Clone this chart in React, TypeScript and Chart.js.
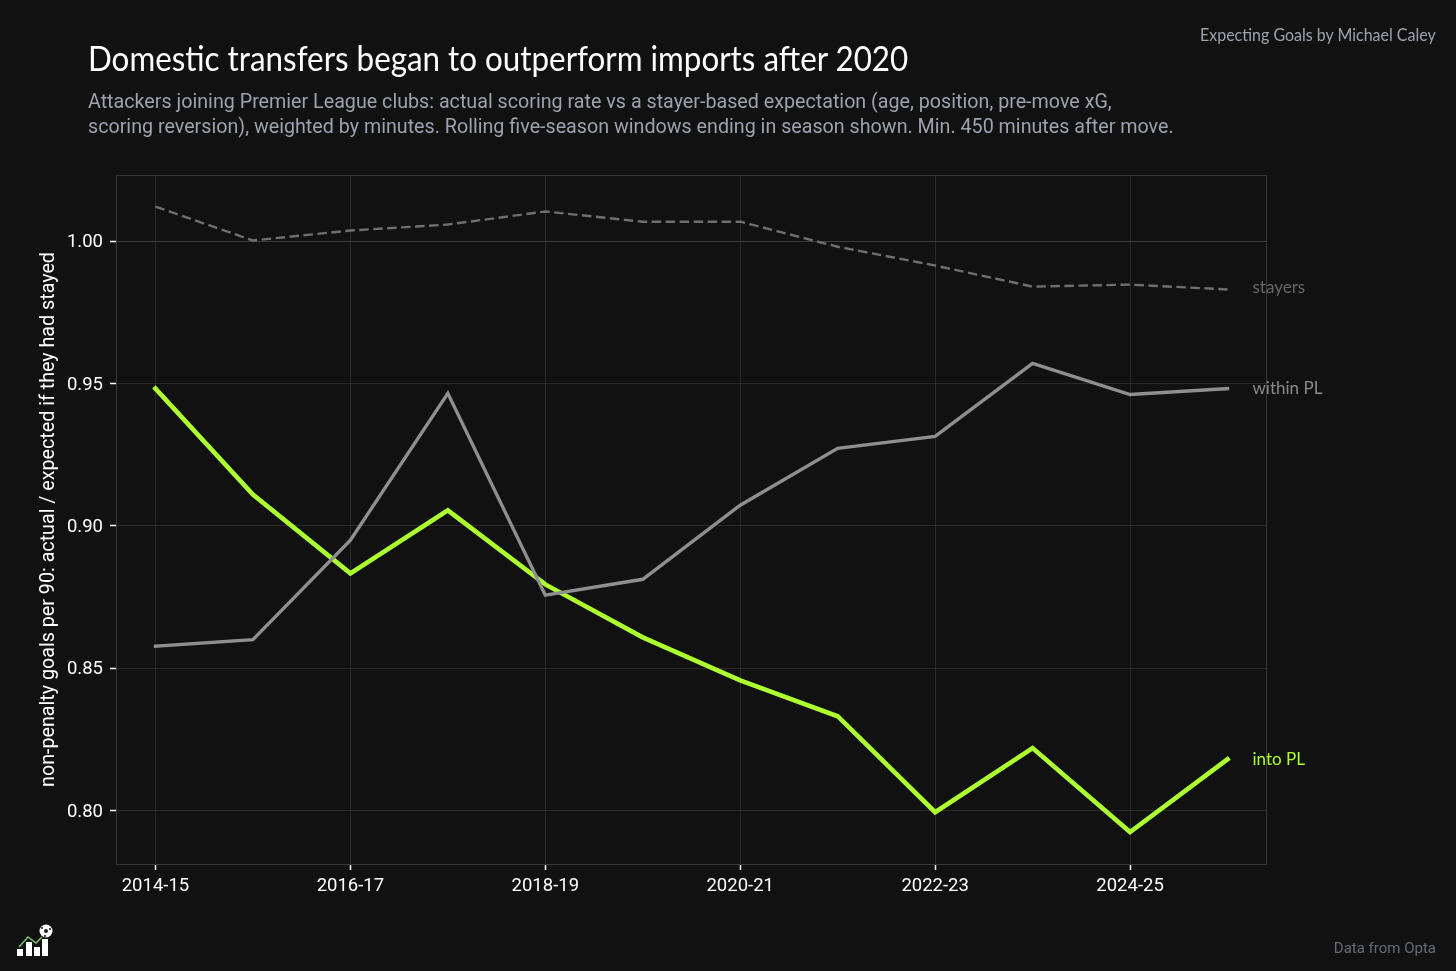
import React, { useEffect, useRef } from "react";
import { Chart, registerables } from "chart.js";

Chart.register(...registerables);

const seasons = ["2014-15","2015-16","2016-17","2017-18","2018-19","2019-20","2020-21","2021-22","2022-23","2023-24","2024-25","2025-26"];
const intoPL = [0.9482,0.911,0.8833,0.9054,0.8794,0.8608,0.8457,0.8331,0.7994,0.8219,0.7924,0.818];
const withinPL = [0.8577,0.860,0.8949,0.9465,0.8756,0.8812,0.9072,0.9272,0.9314,0.957,0.9461,0.9482];
const stayers = [1.0121,1.0002,1.0037,1.0058,1.0104,1.0068,1.0068,0.998,0.9914,0.984,0.9847,0.983];
const yTicks = [0.8,0.85,0.9,0.95,1.0];

const LABEL_FONT = "Lato, sans-serif";
const endLabels = [
  { text: "stayers", color: "#666666", idx: 0, dy: -2 },
  { text: "within PL", color: "#8a8a8a", idx: 1, dy: 0 },
  { text: "into PL", color: "#adff2f", idx: 2, dy: 0 },
];

const framePlugin = {
  id: "frame",
  beforeDatasetsDraw(chart: any) {
    const { ctx, chartArea: a } = chart;
    ctx.save();
    ctx.strokeStyle = "#383838";
    ctx.lineWidth = 1;
    ctx.strokeRect(a.left + 0.5, a.top + 0.5, a.width, a.height);
    ctx.restore();
  },
};

const endLabelPlugin = {
  id: "endLabels",
  afterDatasetsDraw(chart: any) {
    const { ctx, scales } = chart;
    ctx.save();
    ctx.font = `17px ${LABEL_FONT}`;
    ctx.textBaseline = "middle";
    ctx.textAlign = "left";
    endLabels.forEach((l) => {
      const ds = chart.data.datasets[l.idx];
      const last = ds.data[ds.data.length - 1];
      ctx.fillStyle = l.color;
      ctx.fillText(l.text, scales.x.getPixelForValue(last.x) + 25, scales.y.getPixelForValue(last.y) + l.dy);
    });
    ctx.restore();
  },
};

const toPts = (arr: number[]) => arr.map((y, x) => ({ x, y }));

export default function App() {
  const ref = useRef<HTMLCanvasElement>(null);
  useEffect(() => {
    document.body.style.margin = "0";
    document.body.style.background = "#111111";
    const chart = new Chart(ref.current!, {
      type: "line",
      data: {
        datasets: [
          { label: "stayers", data: toPts(stayers), borderColor: "#6f6f6f", borderWidth: 2.4, borderDash: [9.5, 4.5], pointRadius: 0, tension: 0 },
          { label: "within PL", data: toPts(withinPL), borderColor: "#8f8f8f", borderWidth: 3.4, borderCapStyle: "square", pointRadius: 0, tension: 0 },
          { label: "into PL", data: toPts(intoPL), borderColor: "#adff2f", borderWidth: 4.6, borderCapStyle: "square", pointRadius: 0, tension: 0 },
        ] as any,
      },
      options: {
        animation: false,
        responsive: false,
        devicePixelRatio: 1,
        layout: { padding: { left: 0, right: 190, top: 175, bottom: 0 } },
        plugins: { legend: { display: false }, tooltip: { enabled: false } },
        scales: {
          x: {
            type: "linear",
            min: -0.405,
            max: 11.395,
            afterBuildTicks(s: any) { s.ticks = seasons.map((_, i) => ({ value: i })).filter((t) => t.value % 2 === 0); },
            afterFit(s: any) { s.height = 107; },
            grid: { color: "rgba(255,255,255,0.1)", lineWidth: 1, tickColor: "#ffffff", tickWidth: 1.5, tickLength: 6 },
            border: { color: "#383838" },
            ticks: { color: "#ffffff", font: { family: "Roboto", size: 18.5 }, maxRotation: 0, autoSkip: false, padding: 5,
              callback: (v: any) => seasons[v] },
          },
          y: {
            type: "linear",
            min: 0.7812,
            max: 1.0232,
            afterBuildTicks(s: any) { s.ticks = yTicks.map((value) => ({ value })); },
            afterFit(s: any) { s.width = 116; },
            grid: {
              color: (c: any) => (c.tick && c.tick.value === 1 ? "#3c3c3c" : "rgba(255,255,255,0.1)"),
              lineWidth: 1, tickColor: "#ffffff", tickWidth: 1.5, tickLength: 6,
            },
            border: { color: "#383838" },
            title: { display: true, text: "non-penalty goals per 90: actual / expected if they had stayed", color: "#ffffff",
              font: { family: "Roboto", size: 19.7 }, padding: { top: 37, bottom: 0 } },
            ticks: { color: "#ffffff", font: { family: "Roboto", size: 18.5 }, padding: 7, labelOffset: 1.5,
              callback: (v: any) => Number(v).toFixed(2) },
          },
        },
      } as any,
      plugins: [framePlugin, endLabelPlugin],
    });
    return () => chart.destroy();
  }, []);

  return (
    <div style={{ position: "absolute", left: 0, top: 0, width: 1456, height: 971, background: "#111111", overflow: "hidden" }}>
      <canvas ref={ref} width={1456} height={971} style={{ position: "absolute", left: 0, top: 0 }} />
      <div style={{ position: "absolute", left: 88, top: 37, font: "34px Lato, sans-serif", color: "#ffffff", whiteSpace: "nowrap", transform: "scaleX(0.922)", transformOrigin: "left center" }}>
        Domestic transfers began to outperform imports after 2020
      </div>
      <div style={{ position: "absolute", left: 88, top: 89, font: "19.7px/25px Roboto, sans-serif", color: "#9ca3af", whiteSpace: "nowrap" }}>
        Attackers joining Premier League clubs: actual scoring rate vs a stayer-based expectation (age, position, pre-move xG,<br />
        scoring reversion), weighted by minutes. Rolling five-season windows ending in season shown. Min. 450 minutes after move.
      </div>
      <div style={{ position: "absolute", right: 20, top: 24, font: "17px Lato, sans-serif", color: "#9ca3af", whiteSpace: "nowrap", transform: "scaleX(0.94)", transformOrigin: "right center" }}>
        Expecting Goals by Michael Caley
      </div>
      <div style={{ position: "absolute", right: 20, top: 939, font: "15px Roboto, sans-serif", color: "#666b75", whiteSpace: "nowrap" }}>
        Data from Opta
      </div>
      <svg width="60" height="50" viewBox="0 920 60 50" style={{ position: "absolute", left: 0, top: 920 }}>
        <rect x="17" y="949" width="6" height="7" fill="#fff" />
        <rect x="26" y="942" width="6" height="14" fill="#fff" />
        <rect x="34" y="947" width="6" height="9" fill="#fff" />
        <rect x="42" y="939" width="6" height="17" fill="#fff" />
        <polyline points="19,947 28,937 36,943 42,937" fill="none" stroke="#7fbf6a" strokeWidth="1.5" />
        <circle cx="46" cy="931" r="6.5" fill="#fff" />
        <circle cx="46" cy="931" r="2" fill="#222" />
        <circle cx="42" cy="928" r="1.1" fill="#222" />
        <circle cx="50" cy="929" r="1.1" fill="#222" />
        <circle cx="45" cy="936" r="1.1" fill="#222" />
      </svg>
    </div>
  );
}
